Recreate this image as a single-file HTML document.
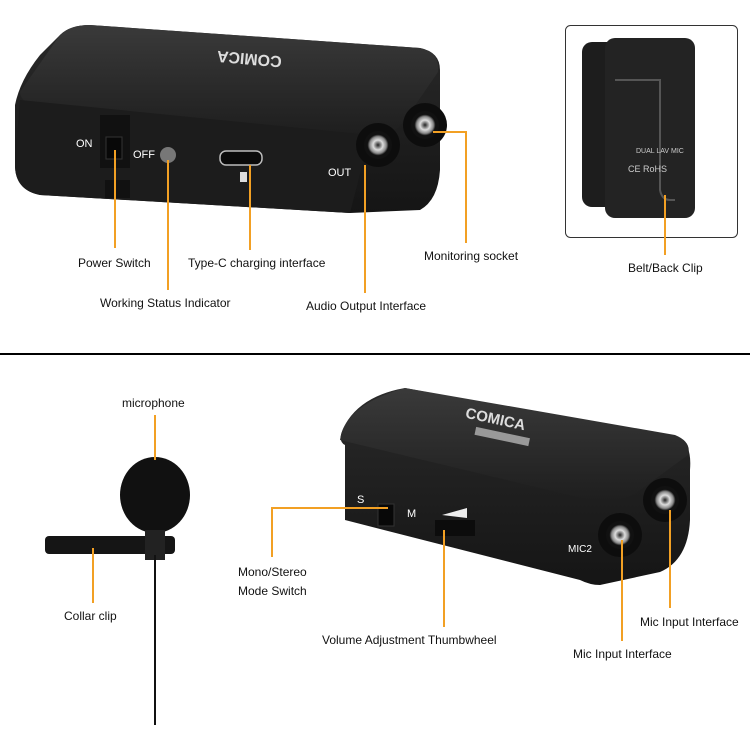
<!DOCTYPE html>
<html><head><meta charset="utf-8"><style>
html,body{margin:0;padding:0;background:#fff;}
svg{display:block;}
text{font-family:"Liberation Sans",Arial,sans-serif;font-size:12px;fill:#111;}
</style></head><body>
<svg width="750" height="750" viewBox="0 0 750 750" xmlns="http://www.w3.org/2000/svg">
<defs>
<linearGradient id="top" x1="0" y1="0" x2="0" y2="1"><stop offset="0" stop-color="#3a3a3a"/><stop offset="1" stop-color="#1e1e1e"/></linearGradient>
<linearGradient id="front" x1="0" y1="0" x2="0" y2="1"><stop offset="0" stop-color="#2a2a2a"/><stop offset="1" stop-color="#151515"/></linearGradient>
<radialGradient id="sock"><stop offset="0" stop-color="#222"/><stop offset="0.35" stop-color="#ddd"/><stop offset="0.6" stop-color="#888"/><stop offset="0.75" stop-color="#111"/></radialGradient>
</defs>

<!-- TOP DEVICE -->
<path d="M60,35 Q70,25 90,25 L420,48 Q440,52 440,70 L440,170 Q438,200 420,210 L350,213 L40,195 Q15,190 15,165 L15,105 Q20,80 40,55 Z" fill="url(#front)"/>
<path d="M60,35 Q70,25 90,25 L420,48 Q440,52 438,72 L405,120 Q395,135 370,135 L45,108 Q20,104 20,92 Z" fill="url(#top)"/>
<path d="M20,100 L370,135 L350,213 L40,195 Q15,190 15,165 Z" fill="#1c1c1c"/>
<rect x="100" y="115" width="30" height="53" fill="#111"/>
<rect x="106" y="137" width="16" height="22" fill="#080808" stroke="#333"/>
<text x="76" y="147" fill="#fff" style="fill:#fff;font-size:11px">ON</text>
<text x="133" y="158" style="fill:#fff;font-size:11px">OFF</text>
<circle cx="168" cy="155" r="8" fill="#777"/>
<rect x="220" y="151" width="42" height="14" rx="6" fill="#0a0a0a" stroke="#bbb" stroke-width="1.5"/>
<rect x="240" y="172" width="7" height="10" fill="#ddd"/>
<rect x="105" y="180" width="25" height="18" fill="#111"/>
<text x="328" y="176" style="fill:#fff;font-size:11px">OUT</text>
<circle cx="378" cy="145" r="22" fill="#0d0d0d"/>
<circle cx="378" cy="145" r="14" fill="url(#sock)"/>
<circle cx="425" cy="125" r="22" fill="#0d0d0d"/>
<circle cx="425" cy="125" r="14" fill="url(#sock)"/>
<text x="178" y="58" transform="rotate(185 230 55)" style="fill:#ddd;font-size:16px;font-weight:bold">COMICA</text>

<!-- Back clip box -->
<rect x="565.5" y="25.5" width="172" height="212" rx="5" fill="#fff" stroke="#333"/>
<rect x="582" y="42" width="50" height="165" rx="10" fill="#1d1d1d"/>
<rect x="605" y="38" width="90" height="180" rx="10" fill="#232323"/>
<path d="M615,80 L660,80 L660,190 Q662,200 670,200 L675,200" stroke="#555" fill="none" stroke-width="2"/>
<text x="636" y="153" style="fill:#ccc;font-size:7px">DUAL LAV MIC</text>
<text x="628" y="172" style="fill:#ccc;font-size:9px">CE RoHS</text>

<!-- divider -->
<rect x="0" y="353" width="750" height="2" fill="#000"/>

<!-- Microphone -->
<ellipse cx="155" cy="495" rx="35" ry="38" fill="#111"/>
<rect x="45" y="536" width="130" height="18" rx="4" fill="#151515"/>
<rect x="145" y="530" width="20" height="30" fill="#222"/>
<line x1="155" y1="555" x2="155" y2="725" stroke="#111" stroke-width="2"/>

<!-- BOTTOM DEVICE -->
<path d="M345,445 Q335,440 348,420 Q365,395 405,388 L680,440 Q692,445 690,470 L690,520 Q688,560 660,572 L600,585 Q590,585 580,580 L345,520 Z" fill="url(#front)"/>
<path d="M340,440 Q345,405 405,388 L675,435 Q692,442 688,455 L640,490 Q620,505 590,500 Z" fill="url(#top)"/>
<text x="465" y="425" transform="rotate(12 500 420)" style="fill:#ddd;font-size:15px;font-weight:bold">COMICA</text>
<rect x="475" y="432" width="55" height="8" transform="rotate(12 500 435)" fill="#999"/>
<rect x="378" y="504" width="16" height="22" fill="#080808" stroke="#333"/>
<text x="357" y="503" style="fill:#fff;font-size:11px">S</text>
<text x="407" y="517" style="fill:#fff;font-size:11px">M</text>
<rect x="435" y="520" width="40" height="16" fill="#0c0c0c"/>
<path d="M442,515 L467,508 L467,518 Z" fill="#eee"/>
<text x="568" y="552" style="fill:#fff;font-size:10px">MIC2</text>
<circle cx="620" cy="535" r="22" fill="#0d0d0d"/>
<circle cx="620" cy="535" r="14" fill="url(#sock)"/>
<circle cx="665" cy="500" r="22" fill="#0d0d0d"/>
<circle cx="665" cy="500" r="14" fill="url(#sock)"/>

<!-- orange leaders -->
<g stroke="#f2a024" stroke-width="2" fill="none">
<line x1="115" y1="150" x2="115" y2="248"/>
<line x1="168" y1="160" x2="168" y2="290"/>
<line x1="250" y1="165" x2="250" y2="250"/>
<line x1="365" y1="165" x2="365" y2="293"/>
<polyline points="433,132 466,132 466,243"/>
<line x1="665" y1="195" x2="665" y2="255"/>
<line x1="155" y1="415" x2="155" y2="460"/>
<line x1="93" y1="548" x2="93" y2="603"/>
<polyline points="388,508 272,508 272,557"/>
<line x1="444" y1="530" x2="444" y2="627"/>
<line x1="622" y1="540" x2="622" y2="641"/>
<line x1="670" y1="510" x2="670" y2="608"/>
</g>

<!-- labels -->
<text x="78" y="267">Power Switch</text>
<text x="100" y="307">Working Status Indicator</text>
<text x="188" y="267">Type-C charging interface</text>
<text x="306" y="310">Audio Output Interface</text>
<text x="424" y="260">Monitoring socket</text>
<text x="628" y="272">Belt/Back Clip</text>
<text x="122" y="407">microphone</text>
<text x="64" y="620">Collar clip</text>
<text x="238" y="576">Mono/Stereo</text>
<text x="238" y="595">Mode Switch</text>
<text x="322" y="644">Volume Adjustment Thumbwheel</text>
<text x="573" y="658">Mic Input Interface</text>
<text x="640" y="626">Mic Input Interface</text>
</svg>
</body></html>
